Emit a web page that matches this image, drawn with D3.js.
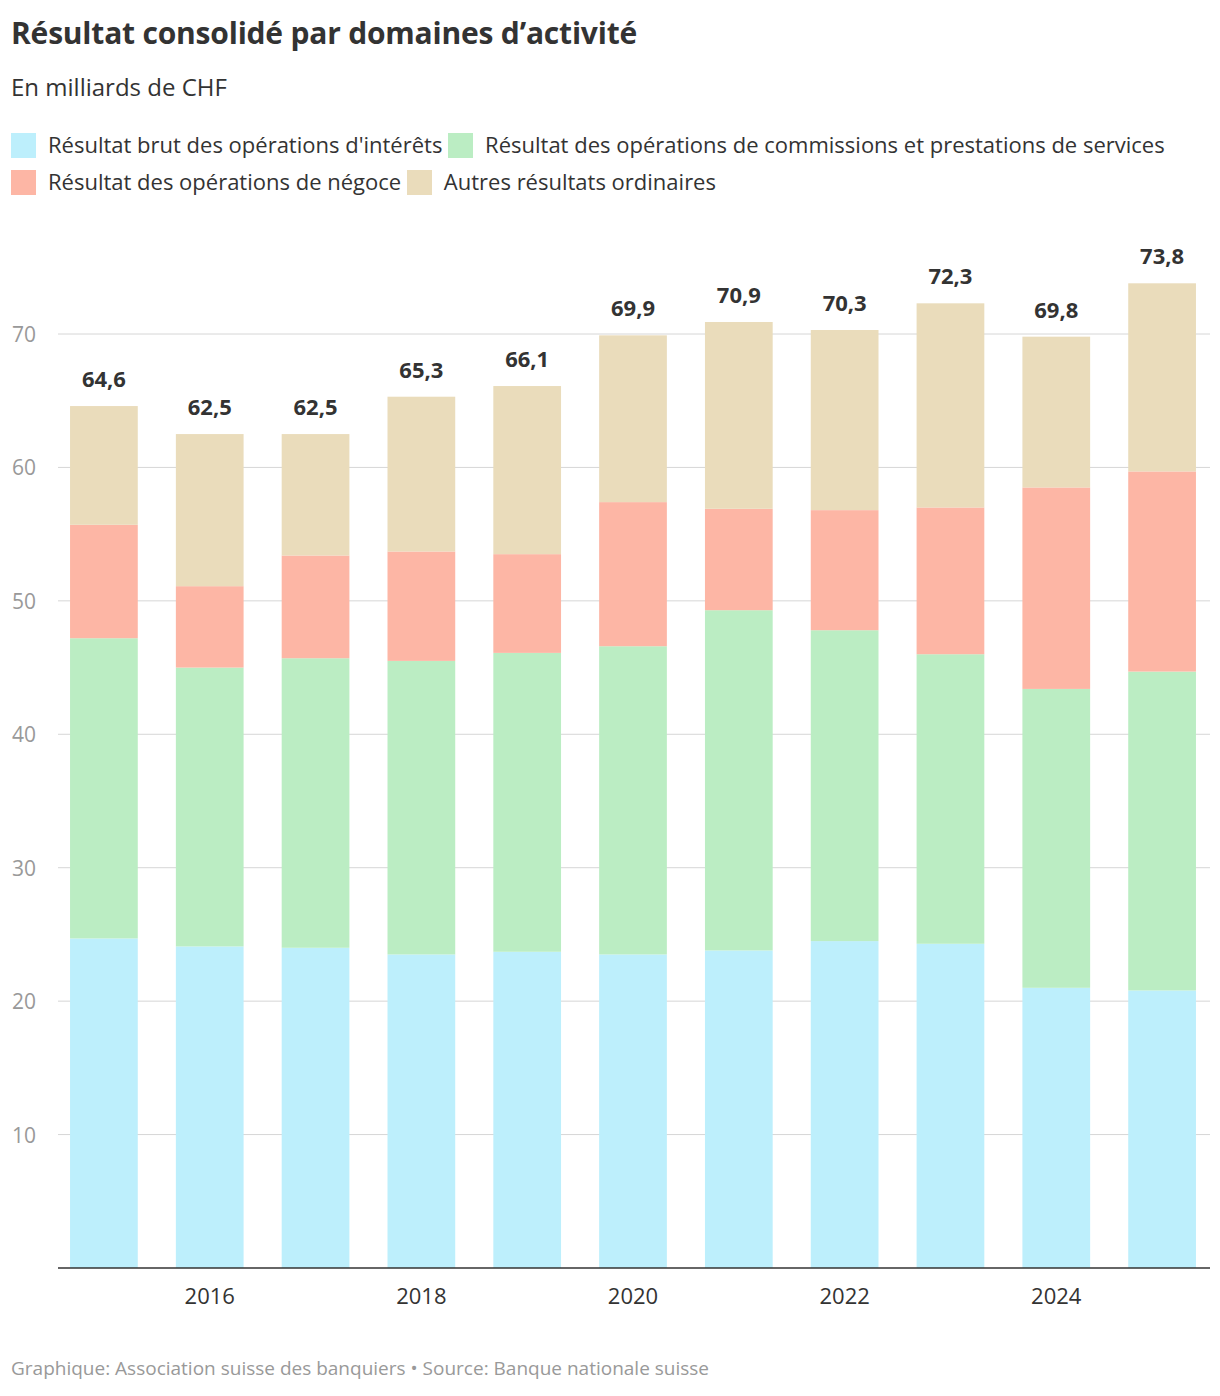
<!DOCTYPE html>
<html><head><meta charset="utf-8">
<script src="https://cdn.jsdelivr.net/npm/d3@7"></script>
<style>
body{margin:0;background:#fff;font-family:"Open Sans",Lato,sans-serif;color:#333;}
#wrap{position:relative;width:1220px;height:1396px;}
h1{position:absolute;left:11px;top:12px;margin:0;font-size:30px;font-weight:700;color:#333;letter-spacing:-0.2px;}
.sub{position:absolute;left:11px;top:70px;font-size:24px;color:#333;}
.legend{position:absolute;left:11px;top:126px;width:1185px;font-size:22px;line-height:37px;color:#333;}
.legend .sw{display:inline-block;width:25px;height:25px;vertical-align:-5px;margin-right:6px;}
.legend .it{margin-right:6px;}
.foot{position:absolute;left:11px;top:1355px;font-size:19px;color:#999;}
svg{position:absolute;left:0;top:0;}
</style></head><body><div id="wrap">
<h1>Résultat consolidé par domaines d’activité</h1>
<div class="sub">En milliards de CHF</div>
<div class="legend" id="legend"></div>
<div class="foot">Graphique: Association suisse des banquiers • Source: Banque nationale suisse</div>
</div>
<script>
const years=[2015,2016,2017,2018,2019,2020,2021,2022,2023,2024,2025];
const interets=[24.7,24.1,24.0,23.5,23.7,23.5,23.8,24.5,24.3,21.0,20.8];
const commissions=[22.5,20.9,21.7,22.0,22.4,23.1,25.5,23.3,21.7,22.4,23.9];
const negoce=[8.5,6.1,7.7,8.2,7.4,10.8,7.6,9.0,11.0,15.1,15.0];
const autres=[8.9,11.4,9.1,11.6,12.6,12.5,14.0,13.5,15.3,11.3,14.1];
const totals=[64.6,62.5,62.5,65.3,66.1,69.9,70.9,70.3,72.3,69.8,73.8];
const seriesNames=["Résultat brut des opérations d'intérêts","Résultat des opérations de commissions et prestations de services","Résultat des opérations de négoce","Autres résultats ordinaires"];
const colors=["#bdeffc","#bbedc3","#fdb6a5","#eadcbb"];
const yTicks=[10,20,30,40,50,60,70];
const xTicks=[2016,2018,2020,2022,2024];

const leg=d3.select("#legend");
seriesNames.forEach((n,i)=>{const s=leg.append("span").attr("class","it");
 s.append("span").attr("class","sw").style("background",colors[i]);leg.append("span").text(n+" ");});

const svg=d3.select("#wrap").append("svg").attr("width",1220).attr("height",1396);
const y=d3.scaleLinear().domain([0,70]).range([1268,334]);
const x=d3.scaleBand().domain(years).range([51,1215]).paddingInner(0.36).paddingOuter(0.18);
svg.append("g").selectAll("line").data(yTicks).join("line").attr("x1",58).attr("x2",1210)
 .attr("y1",d=>y(d)).attr("y2",d=>y(d)).attr("stroke","#d6d6d6");
svg.append("g").selectAll("text").data(yTicks).join("text").attr("x",12).attr("y",d=>y(d)+8)
 .attr("font-size",21).attr("fill","#999").text(d=>d);
const data=years.map((yr,i)=>({year:yr,a:interets[i],b:commissions[i],c:negoce[i],d:autres[i]}));
const stack=d3.stack().keys(["a","b","c","d"])(data);
stack.forEach((s,k)=>{svg.append("g").attr("fill",colors[k]).selectAll("rect").data(s).join("rect")
 .attr("x",d=>x(d.data.year)).attr("width",x.bandwidth()).attr("y",d=>y(d[1])).attr("height",d=>y(d[0])-y(d[1]));});
svg.append("g").selectAll("text").data(years).join("text").attr("x",d=>x(d)+x.bandwidth()/2)
 .attr("y",(d,i)=>y(totals[i])-19).attr("text-anchor","middle").attr("font-size",22).attr("font-weight",700).attr("fill","#333")
 .text((d,i)=>d3.format(".1f")(totals[i]).replace(".",","));
svg.append("line").attr("x1",58).attr("x2",1210).attr("y1",1268).attr("y2",1268).attr("stroke","#333").attr("stroke-width",1.5);
svg.append("g").selectAll("text").data(xTicks).join("text").attr("x",d=>x(d)+x.bandwidth()/2).attr("y",1304)
 .attr("text-anchor","middle").attr("font-size",22).attr("fill","#333").text(d=>d);
</script></body></html>
